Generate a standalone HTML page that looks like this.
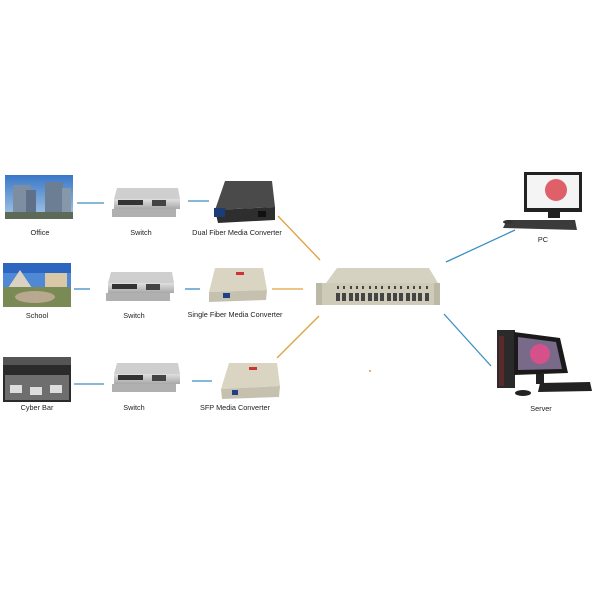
<!DOCTYPE html>
<html><head><style>
html,body{margin:0;padding:0;background:#fff;}
svg{display:block;}
text{font-family:"Liberation Sans",sans-serif;font-size:7.3px;fill:#222;text-anchor:middle;}
</style></head><body>
<svg width="600" height="600" viewBox="0 0 600 600" xmlns="http://www.w3.org/2000/svg">
<defs>
<linearGradient id="sky" x1="0" y1="0" x2="0" y2="1"><stop offset="0" stop-color="#3a78c8"/><stop offset="1" stop-color="#a9c9e6"/></linearGradient>
<linearGradient id="sw" x1="0" y1="0" x2="0" y2="1"><stop offset="0" stop-color="#e0e0e0"/><stop offset="1" stop-color="#a8a8a8"/></linearGradient>
</defs>
<rect x="5" y="175" width="68" height="44" fill="url(#sky)"/>
<rect x="13" y="185" width="18" height="34" fill="#7d8ea3"/>
<rect x="26" y="190" width="10" height="29" fill="#5f7088"/>
<rect x="45" y="182" width="18" height="37" fill="#6c7e94"/>
<rect x="62" y="188" width="9" height="31" fill="#8797aa"/>
<rect x="5" y="212" width="68" height="7" fill="#5d6a58"/>
<rect x="3" y="263" width="68" height="44" fill="#4f89d6"/>
<rect x="3" y="263" width="68" height="10" fill="#2d66c0"/>
<polygon points="8,288 20,270 32,288" fill="#d9d2c2"/>
<rect x="45" y="273" width="22" height="18" fill="#d8c8a8"/>
<rect x="3" y="287" width="68" height="20" fill="#7a8a55"/>
<ellipse cx="35" cy="297" rx="20" ry="6" fill="#b8a890"/>
<rect x="3" y="357" width="68" height="45" fill="#2b2b2b"/>
<rect x="3" y="357" width="68" height="8" fill="#555"/>
<rect x="5" y="375" width="64" height="25" fill="#6e6e6e"/>
<rect x="10" y="385" width="12" height="8" fill="#ddd"/><rect x="30" y="387" width="12" height="8" fill="#ddd"/><rect x="50" y="385" width="12" height="8" fill="#ddd"/>

<text x="40" y="235">Office</text>
<text x="37" y="318">School</text>
<text x="37" y="410">Cyber Bar</text>

<g id="sw1">
<polygon points="117,188 178,188 180,199 114,199" fill="#cfcfcf"/>
<rect x="114" y="199" width="66" height="10" fill="url(#sw)"/>
<rect x="118" y="200" width="25" height="5" fill="#333"/>
<rect x="152" y="200" width="14" height="6" fill="#444"/>
<rect x="112" y="209" width="64" height="8" fill="#b0b0b0"/>
</g>
<use href="#sw1" transform="translate(-6,84)"/>
<use href="#sw1" transform="translate(0,175)"/>
<text x="141" y="235">Switch</text>
<text x="134" y="318">Switch</text>
<text x="134" y="410">Switch</text>

<polygon points="225,181 272,181 275,207 215,210" fill="#4a4a4a"/>
<polygon points="215,210 275,207 275,220 218,223" fill="#2e2e2e"/>
<rect x="214" y="208" width="11" height="9" fill="#1c3c77"/>
<rect x="258" y="211" width="8" height="6" fill="#111"/>
<text x="237" y="235">Dual Fiber Media Converter</text>

<polygon points="215,268 263,268 267,290 209,292" fill="#d9d5c2"/>
<polygon points="209,292 267,290 266,300 209,302" fill="#c5c1ae"/>
<rect x="223" y="293" width="7" height="5" fill="#1f3f88"/>
<rect x="236" y="272" width="8" height="3" fill="#c33"/>
<text x="235" y="317">Single Fiber Media Converter</text>

<polygon points="229,363 277,363 280,386 221,389" fill="#d9d5c2"/>
<polygon points="221,389 280,386 279,397 222,399" fill="#c5c1ae"/>
<rect x="232" y="390" width="6" height="5" fill="#1f3f88"/>
<rect x="249" y="367" width="8" height="3" fill="#c33"/>
<text x="235" y="410">SFP Media Converter</text>

<g stroke="#3a8fc4" stroke-width="1.3">
<line x1="77" y1="203" x2="104" y2="203"/>
<line x1="188" y1="201" x2="209" y2="201"/>
<line x1="74" y1="289" x2="90" y2="289"/>
<line x1="185" y1="289" x2="200" y2="289"/>
<line x1="74" y1="384" x2="104" y2="384"/>
<line x1="192" y1="381" x2="212" y2="381"/>
<line x1="446" y1="262" x2="515" y2="230"/>
<line x1="444" y1="314" x2="491" y2="366"/>
</g>
<g stroke="#e0a040" stroke-width="1.3">
<line x1="278" y1="216" x2="320" y2="260"/>
<line x1="272" y1="289" x2="303" y2="289"/>
<line x1="277" y1="358" x2="319" y2="316"/>
</g>

<polygon points="337,268 429,268 438,283 326,283" fill="#d6d2c2"/>
<rect x="316" y="283" width="124" height="22" fill="#cfcbb9"/>
<g fill="#444">
<rect x="337" y="286" width="2" height="3"/><rect x="343" y="286" width="2" height="3"/><rect x="350" y="286" width="2" height="3"/><rect x="356" y="286" width="2" height="3"/><rect x="362" y="286" width="2" height="3"/><rect x="369" y="286" width="2" height="3"/><rect x="375" y="286" width="2" height="3"/><rect x="381" y="286" width="2" height="3"/><rect x="388" y="286" width="2" height="3"/><rect x="394" y="286" width="2" height="3"/><rect x="400" y="286" width="2" height="3"/><rect x="407" y="286" width="2" height="3"/><rect x="413" y="286" width="2" height="3"/><rect x="419" y="286" width="2" height="3"/><rect x="426" y="286" width="2" height="3"/>
<rect x="336" y="293" width="4" height="8"/><rect x="342" y="293" width="4" height="8"/><rect x="349" y="293" width="4" height="8"/><rect x="355" y="293" width="4" height="8"/><rect x="361" y="293" width="4" height="8"/><rect x="368" y="293" width="4" height="8"/><rect x="374" y="293" width="4" height="8"/><rect x="380" y="293" width="4" height="8"/><rect x="387" y="293" width="4" height="8"/><rect x="393" y="293" width="4" height="8"/><rect x="399" y="293" width="4" height="8"/><rect x="406" y="293" width="4" height="8"/><rect x="412" y="293" width="4" height="8"/><rect x="418" y="293" width="4" height="8"/><rect x="425" y="293" width="4" height="8"/>
</g>
<rect x="316" y="283" width="6" height="22" fill="#bcb8a6"/><rect x="434" y="283" width="6" height="22" fill="#bcb8a6"/>
<circle cx="370" cy="371" r="1" fill="#c96"/>

<rect x="524" y="172" width="58" height="40" fill="#222"/>
<rect x="527" y="175" width="52" height="33" fill="#f4f4f4"/>
<circle cx="556" cy="190" r="11" fill="#e0606a"/>
<rect x="548" y="212" width="12" height="6" fill="#222"/>
<polygon points="507,220 575,220 577,230 503,228" fill="#3b3b3b"/>
<ellipse cx="508" cy="222" rx="5" ry="2" fill="#333"/>
<text x="543" y="242">PC</text>

<rect x="497" y="330" width="18" height="58" fill="#2a2a2a"/>
<rect x="499" y="336" width="5" height="50" fill="#8a2a2a" opacity=".5"/>
<polygon points="514,332 560,338 568,373 514,375" fill="#1a1a1a"/>
<polygon points="518,337 556,342 562,369 518,370" fill="#7a6a8a"/>
<circle cx="540" cy="354" r="10" fill="#d6508a"/>
<rect x="536" y="374" width="8" height="10" fill="#222"/>
<polygon points="540,383 590,382 592,391 538,392" fill="#222"/>
<ellipse cx="523" cy="393" rx="8" ry="3" fill="#222"/>
<text x="541" y="411">Server</text>
</svg>
</body></html>
